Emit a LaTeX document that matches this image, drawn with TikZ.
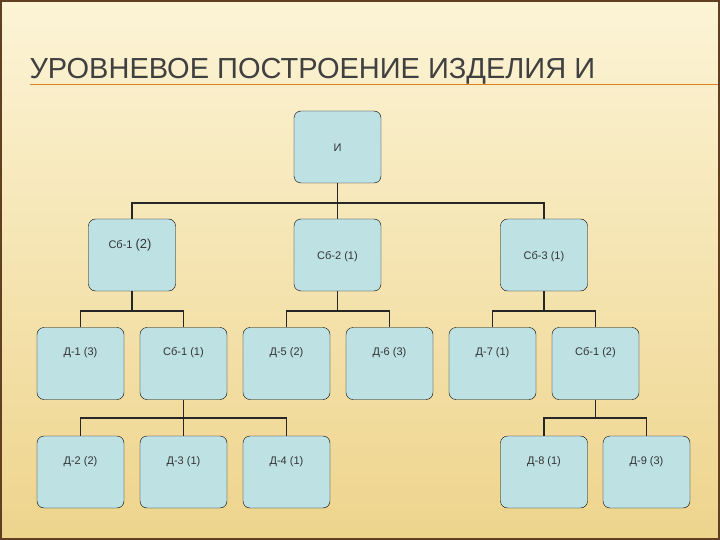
\documentclass[tikz,border=0pt]{standalone}
\usepackage{fontspec}
\setmainfont{Liberation Sans}
\begin{document}
\begin{tikzpicture}[x=1pt,y=-1pt,
  box/.style={draw=black,rounded corners=7pt,minimum width=87pt,minimum height=72pt,inner sep=0pt},
  lbl/.style={font=\fontsize{11}{13}\selectfont,text=black!80},
  con/.style={line width=1.6pt,draw=black!85}]
\useasboundingbox (0,0) rectangle (720,540);
\shade[top color={rgb,255:red,252;green,244;blue,214},bottom color={rgb,255:red,238;green,212;blue,140}] (0,0) rectangle (720,540);
\draw[line width=2pt,draw=brown!50!black] (1,1) rectangle (719,539);
\node[anchor=west,font=\fontsize{29}{32}\selectfont,text=black!75] (title) at (26,71) {УРОВНЕВОЕ ПОСТРОЕНИЕ ИЗДЕЛИЯ И};
\coordinate (ls) at (30,84); \coordinate (le) at (718,84);
\draw[brown!50!orange,line width=0.6pt] (ls) -- (le);
\tikzset{bx/.style={box,fill={rgb,255:red,190;green,225;blue,228}}}
% nodes (centres)
\node[bx] (I) at (337.5,147) {};
\node[bx] (S1) at (132,255) {};
\node[bx] (S2) at (337.5,255) {};
\node[bx] (S3) at (544,255) {};
\node[bx] (D1) at (80.5,363.5) {};
\node[bx] (S11) at (183.5,363.5) {};
\node[bx] (D5) at (286.5,363.5) {};
\node[bx] (D6) at (389.5,363.5) {};
\node[bx] (D7) at (492.5,363.5) {};
\node[bx] (S12) at (595.5,363.5) {};
\node[bx] (D2) at (80.5,472) {};
\node[bx] (D3) at (183.5,472) {};
\node[bx] (D4) at (286.5,472) {};
\node[bx] (D8) at (544,472) {};
\node[bx] (D9) at (646.5,472) {};
% labels
\node[lbl] (tI) at (337.5,148) {И};
\node[lbl] (tS1) at (130,245) {Сб-1 \fontsize{13}{15}\selectfont(2)};
\node[lbl] (tS2) at (337.5,257) {Сб-2 (1)};
\node[lbl] (tS3) at (544,257) {Сб-3 (1)};
\foreach \n/\t in {D1/Д-1 (3),S11/Сб-1 (1),D5/Д-5 (2),D6/Д-6 (3),D7/Д-7 (1),S12/Сб-1 (2)}
  \node[lbl] (t\n) at ([yshift=11pt]\n.center) {\t};
\foreach \n/\t in {D2/Д-2 (2),D3/Д-3 (1),D4/Д-4 (1),D8/Д-8 (1),D9/Д-9 (3)}
  \node[lbl] (t\n) at ([yshift=10pt]\n.center) {\t};
% connectors
\draw[con] (I.south) -- (337.5,203);
\draw[con] (S1.north) |- (337.5,203) -| (S3.north);
\draw[con] (337.5,203) -- (S2.north);
\draw[con] (S1.south) -- (132,311);
\draw[con] (D1.north) |- (S11.north |- 0,311) -- (S11.north);
\draw[con] (S2.south) -- (337.5,311);
\draw[con] (D5.north) |- (D6.north |- 0,311) -- (D6.north);
\draw[con] (S3.south) -- (544,311);
\draw[con] (D7.north) |- (S12.north |- 0,311) -- (S12.north);
\draw[con] (S11.south) -- (183.5,418);
\draw[con] (D2.north) |- (D4.north |- 0,418) -- (D4.north);
\draw[con] (D3.north) -- (183.5,418);
\draw[con] (S12.south) -- (595.5,418);
\draw[con] (D8.north) |- (D9.north |- 0,418) -- (D9.north);
\end{tikzpicture}
\end{document}
